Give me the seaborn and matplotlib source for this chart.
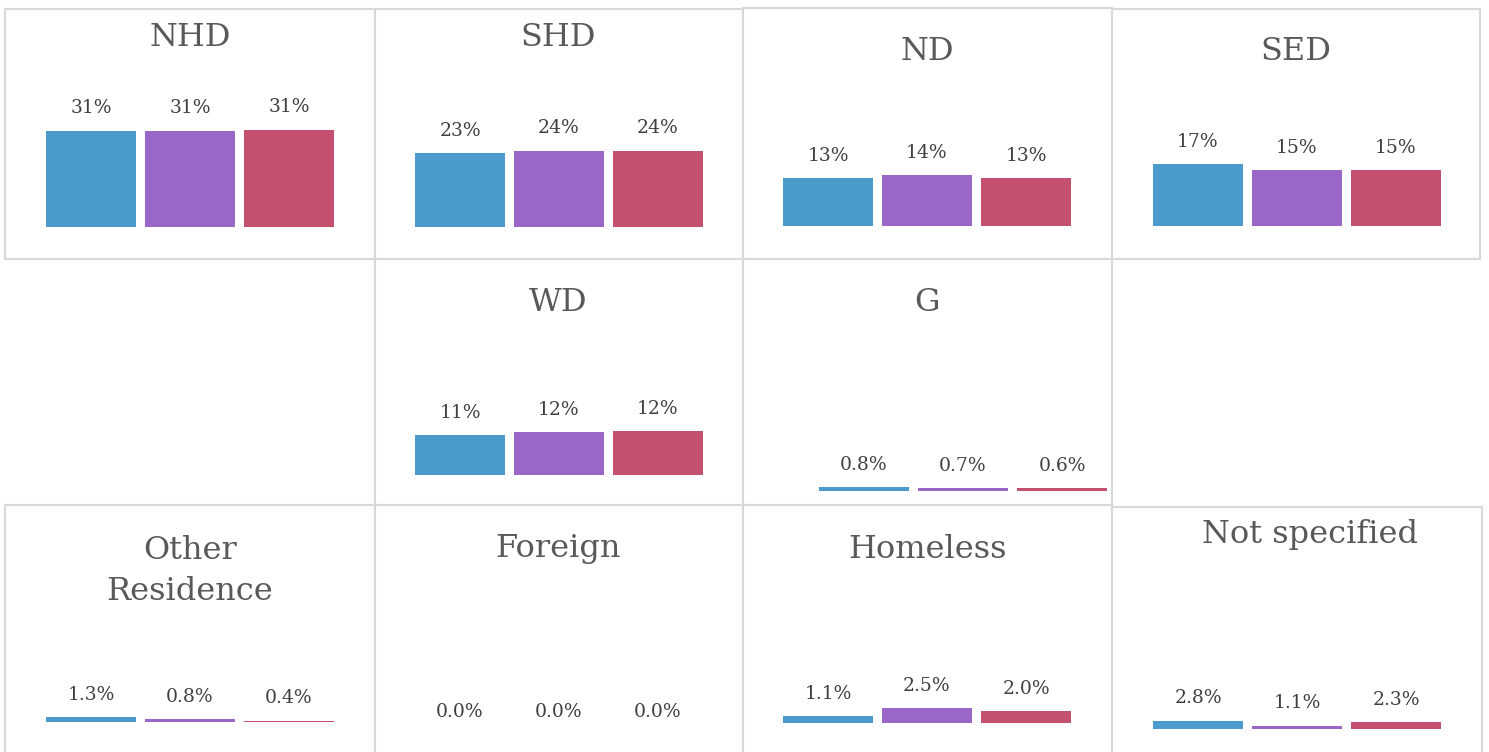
import matplotlib
matplotlib.use("Agg")
import matplotlib.pyplot as plt
import seaborn as sns
import pandas as pd

# series (three periods, no legend in the original)
series = ["Period 1", "Period 2", "Period 3"]
colors = ["#4A9BCB", "#9A66C8", "#C44F6E"]

# panel titles and values (%)
panels = ["NHD", "SHD", "ND", "SED", "WD", "G",
          "Other\nResidence", "Foreign", "Homeless", "Not specified"]
nhd = [30.8, 30.8, 31.1]
shd = [23.3, 24.0, 24.0]
nd = [13.2, 13.9, 13.2]
sed = [16.9, 15.2, 15.2]
wd = [11.3, 12.1, 12.4]
g = [0.8, 0.7, 0.6]
other = [1.3, 0.8, 0.4]
foreign = [0.0, 0.0, 0.0]
homeless = [1.1, 2.5, 2.0]
not_spec = [2.8, 1.1, 2.3]
values = [nhd, shd, nd, sed, wd, g, other, foreign, homeless, not_spec]
label_fmt = ["{:.0f}%"] * 5 + ["{:.1f}%"] * 5

# layout in pixels: box (x0, y0, x1, y1), bar baseline, px per %, offset of first bar centre, title pos
W, H = 1489, 752
layout = [
    ((5, 9, 375, 259), 227, 3.13, 86, (190, 37)),
    ((375, 9, 743, 259), 227, 3.18, 85, (558, 37)),
    ((743, 8, 1112, 259), 226, 3.64, 85, (927, 52)),
    ((1112, 9, 1480, 259), 226, 3.67, 86, (1296, 52)),
    ((375, 259, 743, 505), 475, 3.54, 85, (558, 302)),
    ((743, 259, 1112, 505), 491, 4.6, 121, (927, 302)),
    ((5, 505, 375, 760), 722, 3.6, 86, (190, 571)),
    ((375, 505, 743, 760), 734, 3.5, 85, (558, 549)),
    ((743, 505, 1112, 760), 723, 6.0, 85, (927, 550)),
    ((1112, 507, 1482, 760), 729, 3.0, 86, (1310, 534)),
]

sns.set_theme(style="white")
plt.rcParams["font.family"] = ["DejaVu Serif"]

fig = plt.figure(figsize=(W / 100, H / 100), dpi=100)
step = 99.0  # px between bar centres

for title, vals, fmt, (box, base, scale, off, tpos) in zip(panels, values, label_fmt, layout):
    x0, y0, x1, y1 = box
    ax = fig.add_axes([x0 / W, 1 - y1 / H, (x1 - x0) / W, (y1 - y0) / H])
    df = pd.DataFrame({"series": series, "value": vals})
    sns.barplot(data=df, x="series", y="value", hue="series", palette=colors,
                width=90 / step, legend=False, ax=ax, saturation=1, linewidth=0)
    left = -off / step
    ax.set_xlim(left, left + (x1 - x0) / step)
    ax.set_ylim(-(y1 - base) / scale, (base - y0) / scale)
    for bar, v in zip(ax.patches, vals):
        ax.annotate(fmt.format(v), (bar.get_x() + bar.get_width() / 2, bar.get_height()),
                    xytext=(0, 16), textcoords="offset points", ha="center", va="center",
                    fontsize=13.5, color="#404040")
    ax.set_xticks([])
    ax.set_yticks([])
    ax.set_xlabel("")
    ax.set_ylabel("")
    for sp in ax.spines.values():
        sp.set_visible(True)
        sp.set_color("#D9D9D9")
        sp.set_linewidth(1.5)
    fig.text(tpos[0] / W, 1 - tpos[1] / H, title, ha="center", va="center",
             fontsize=23, color="#595959", linespacing=1.4)

fig.savefig("out.png", dpi=100, facecolor="white")
